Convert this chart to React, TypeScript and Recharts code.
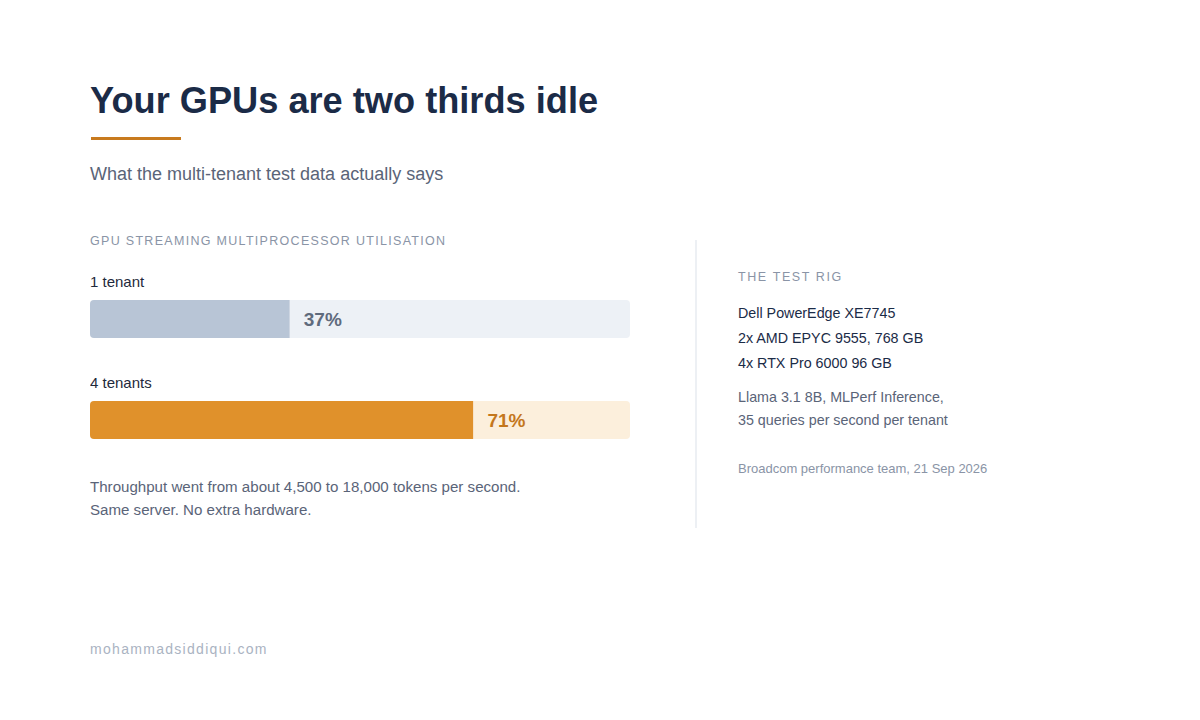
import { Bar, BarChart, Cell, LabelList, XAxis, YAxis } from "recharts";

const TENANTS = ["1 tenant", "4 tenants"];
const UTILISATION = [37, 71];

const RIG_SPECS = ["Dell PowerEdge XE7745", "2x AMD EPYC 9555, 768 GB", "4x RTX Pro 6000 96 GB"];
const WORKLOAD = ["Llama 3.1 8B, MLPerf Inference,", "35 queries per second per tenant"];
const NOTES = ["Throughput went from about 4,500 to 18,000 tokens per second.", "Same server. No extra hardware."];

const TONE = [
  { fill: "#b8c5d6", track: "#edf1f6", label: "#5f6b7d" },
  { fill: "#e0912b", track: "#fcefdc", label: "#c4771c" },
];

const FONT = '"Liberation Sans", Arial, Helvetica, sans-serif';
const NAVY = "#1b2b47";
const SLATE = "#5a6478";
const MUTED = "#8a94a6";

const rows = TENANTS.map((name, i) => ({
  name,
  value: UTILISATION[i],
  rest: 100 - UTILISATION[i],
}));

function Txt({
  top,
  left,
  size,
  color,
  weight = 400,
  spacing = 0,
  lh = 20,
  children,
}: {
  top: number;
  left: number;
  size: number;
  color: string;
  weight?: number;
  spacing?: number;
  lh?: number;
  children: React.ReactNode;
}) {
  return (
    <div
      style={{
        position: "absolute",
        top: top - lh / 2,
        left,
        fontSize: size,
        lineHeight: `${lh}px`,
        color,
        fontWeight: weight,
        letterSpacing: spacing,
        whiteSpace: "nowrap",
      }}
    >
      {children}
    </div>
  );
}

export default function App() {
  return (
    <div
      style={{
        position: "fixed",
        left: 0,
        top: 0,
        width: 1200,
        height: 720,
        background: "#ffffff",
        fontFamily: FONT,
        overflow: "hidden",
      }}
    >
      <Txt top={101} left={90} size={36.2} color={NAVY} weight={700} lh={44}>
        Your GPUs are two thirds idle
      </Txt>
      <div style={{ position: "absolute", left: 91, top: 137, width: 90, height: 3, background: "#c87a1e" }} />
      <Txt top={174} left={90} size={18} color={SLATE}>
        What the multi-tenant test data actually says
      </Txt>
      <Txt top={241} left={90} size={12.5} color={MUTED} spacing={1.3}>
        GPU STREAMING MULTIPROCESSOR UTILISATION
      </Txt>

      <div style={{ position: "absolute", left: 90, top: 268 }}>
        <BarChart
          width={540}
          height={202}
          data={rows}
          layout="vertical"
          margin={{ top: 0, right: 0, bottom: 0, left: 0 }}
        >
          <XAxis type="number" domain={[0, 100]} hide />
          <YAxis type="category" dataKey="name" hide />
          <Bar dataKey="value" stackId="u" barSize={38} radius={[4, 0, 0, 4]} isAnimationActive={false}>
            {rows.map((r, i) => (
              <Cell key={r.name} fill={TONE[i].fill} />
            ))}
            <LabelList
              dataKey="name"
              content={(p: any) => (
                <text
                  x={Number(p.x)}
                  y={Number(p.y) - 19}
                  dominantBaseline="central"
                  fontSize={15}
                  fill="#1f2a3c"
                  fontFamily={FONT}
                >
                  {p.value}
                </text>
              )}
            />
            <LabelList
              dataKey="value"
              content={(p: any) => (
                <text
                  x={Number(p.x) + Number(p.width) + 14}
                  y={Number(p.y) + Number(p.height) / 2}
                  dominantBaseline="central"
                  fontSize={19}
                  fontWeight={700}
                  fill={TONE[p.index]?.label}
                  fontFamily={FONT}
                >
                  {`${p.value}%`}
                </text>
              )}
            />
          </Bar>
          <Bar dataKey="rest" stackId="u" barSize={38} radius={[0, 4, 4, 0]} isAnimationActive={false}>
            {rows.map((r, i) => (
              <Cell key={r.name} fill={TONE[i].track} />
            ))}
          </Bar>
        </BarChart>
      </div>

      {NOTES.map((t, i) => (
        <Txt key={t} top={487 + i * 23} left={90} size={15.1} color={SLATE}>
          {t}
        </Txt>
      ))}

      <div style={{ position: "absolute", left: 695, top: 240, width: 2, height: 288, background: "#edf0f4" }} />

      <Txt top={277} left={738} size={12.5} color={MUTED} spacing={1.6}>
        THE TEST RIG
      </Txt>
      {RIG_SPECS.map((t, i) => (
        <Txt key={t} top={313 + i * 25} left={738} size={14.3} color={NAVY}>
          {t}
        </Txt>
      ))}
      {WORKLOAD.map((t, i) => (
        <Txt key={t} top={397 + i * 23} left={738} size={14.3} color={SLATE}>
          {t}
        </Txt>
      ))}
      <Txt top={469} left={738} size={13} color={MUTED}>
        Broadcom performance team, 21 Sep 2026
      </Txt>

      <Txt top={649} left={90} size={14} color="#aab3c2" spacing={1.3}>
        mohammadsiddiqui.com
      </Txt>
    </div>
  );
}
